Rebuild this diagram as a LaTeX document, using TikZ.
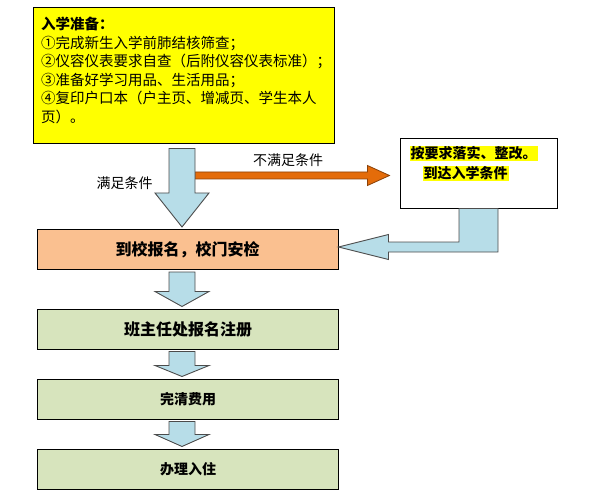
\documentclass[tikz,border=0pt]{standalone}
\usepackage{fontspec}
\setmainfont{Noto Sans CJK SC}
\usetikzlibrary{calc,positioning}
\definecolor{PrepColor}{RGB}{255,255,0}
\definecolor{GateColor}{RGB}{250,192,144}
\definecolor{StepColor}{RGB}{215,228,189}
\definecolor{FlowColor}{RGB}{183,221,232}
\definecolor{FailColor}{RGB}{228,108,10}
\definecolor{FailEdge}{RGB}{140,66,8}

\newcommand{\hl}[1]{{\fboxsep=1pt\colorbox{PrepColor}{#1}}}
% block arrow pointing down: start, tip, head length
\newcommand{\downblock}[3]{%
  \draw[flowarrow] let \p1=(#1), \p2=(#2) in
    (\x1-13,\y1) -- (\x1+13,\y1) -- (\x1+13,\y2+#3) -- (\x1+27,\y2+#3)
    -- (\x1,\y2) -- (\x1-27,\y2+#3) -- (\x1-13,\y2+#3) -- cycle;}

\begin{document}
\begin{tikzpicture}[x=1pt,y=-1pt,
  stepbox/.style={draw,line width=1pt,minimum width=301,minimum height=40,
                  font=\bfseries\fontsize{14}{14}\selectfont},
  flowarrow/.style={draw=black!70,line width=0.9pt,fill=FlowColor},
  failarrow/.style={draw=FailEdge,line width=0.8pt,fill=FailColor},
  flowlabel/.style={font=\fontsize{14}{14}\selectfont,inner sep=1pt}]
\useasboundingbox (0,0) rectangle (593,494);

\node[draw,line width=1pt,fill=PrepColor,text width=285,inner xsep=8pt,
      minimum height=136,align=left,font=\fontsize{14.5}{18.6}\selectfont]
  (prep) at (183.5,76) {{\bfseries 入学准备：}\\
  ①完成新生入学前肺结核筛查；\\
  ②仪容仪表要求自查（后附仪容仪表标准）；\\
  ③准备好学习用品、生活用品；\\
  ④复印户口本（户主页、增减页、学生本人\\
  页）。\\[-6pt]\mbox{}};

\node[draw,line width=1pt,minimum width=157,minimum height=69] (fix) at (478.5,173.5) {};
\node[anchor=north west,align=left,inner sep=0pt,
      font=\bfseries\fontsize{14}{20}\selectfont]
  (fixtxt) at ([shift={(10,7)}]fix.north west)
  {\hl{按要求落实、整改。}\\\hspace*{13pt}\hl{到达入学条件}};

\node[stepbox,fill=GateColor,font=\bfseries\fontsize{16}{16}\selectfont] (gate) at (187.5,249.5) {到校报名，校门安检};
\node[stepbox,fill=StepColor,font=\bfseries\fontsize{16}{16}\selectfont] (reg) at (188,329) {班主任处报名注册};
\node[stepbox,fill=StepColor] (fee) at (188,399) {完清费用};
\node[stepbox,fill=StepColor] (dorm) at (188,469) {办理入住};

\node[flowlabel] (nolabel) at (288,160) {不满足条件};
\node[flowlabel] (yeslabel) at (124.5,183) {满足条件};

% arrow axis
\coordinate (axis) at (182,0);
\coordinate (a0s) at ($(axis |- prep.south)+(0,4)$);
\coordinate (a0e) at ($(axis |- gate.north)+(0,-2)$);
\coordinate (a1s) at ($(axis |- gate.south)+(0,2)$);
\coordinate (a1e) at ($(axis |- reg.north)+(0,-2)$);
\coordinate (a2s) at ($(axis |- reg.south)+(0,2)$);
\coordinate (a2e) at ($(axis |- fee.north)+(0,-2)$);
\coordinate (a3s) at ($(axis |- fee.south)+(0,2)$);
\coordinate (a3e) at ($(axis |- dorm.north)+(0,-2)$);

% not ready: to the right box
\coordinate (fail0) at (195,175.5);
\coordinate (fail1) at ($(fix.west |- fail0)+(-10,0)$);
\draw[failarrow] let \p1=(fail0), \p2=(fail1) in
  (\x1,\y1+3.5) -- (\x2-22,\y1+3.5) -- (\x2-22,\y1+10) -- (\x2,\y1)
  -- (\x2-22,\y1-10) -- (\x2-22,\y1-3.5) -- (\x1,\y1-3.5) -- cycle;

\downblock{a0s}{a0e}{34}
\downblock{a1s}{a1e}{15}
\downblock{a2s}{a2e}{11}
\downblock{a3s}{a3e}{12}

% back to the gate
\coordinate (back1) at ($(gate.east)+(0,-2.5)$);
\draw[flowarrow] let \p1=(fix.south), \p2=(back1) in
  (\x1-19.5,\y1) -- (\x1+19.5,\y1) -- (\x1+19.5,\y2-5) -- (\x2+50,\y2-5)
  -- (\x2+50,\y2-12.5) -- (\x2,\y2) -- (\x2+50,\y2+12.5) -- (\x2+50,\y2+5)
  -- (\x1-19.5,\y2+5) -- cycle;
\end{tikzpicture}
\end{document}
